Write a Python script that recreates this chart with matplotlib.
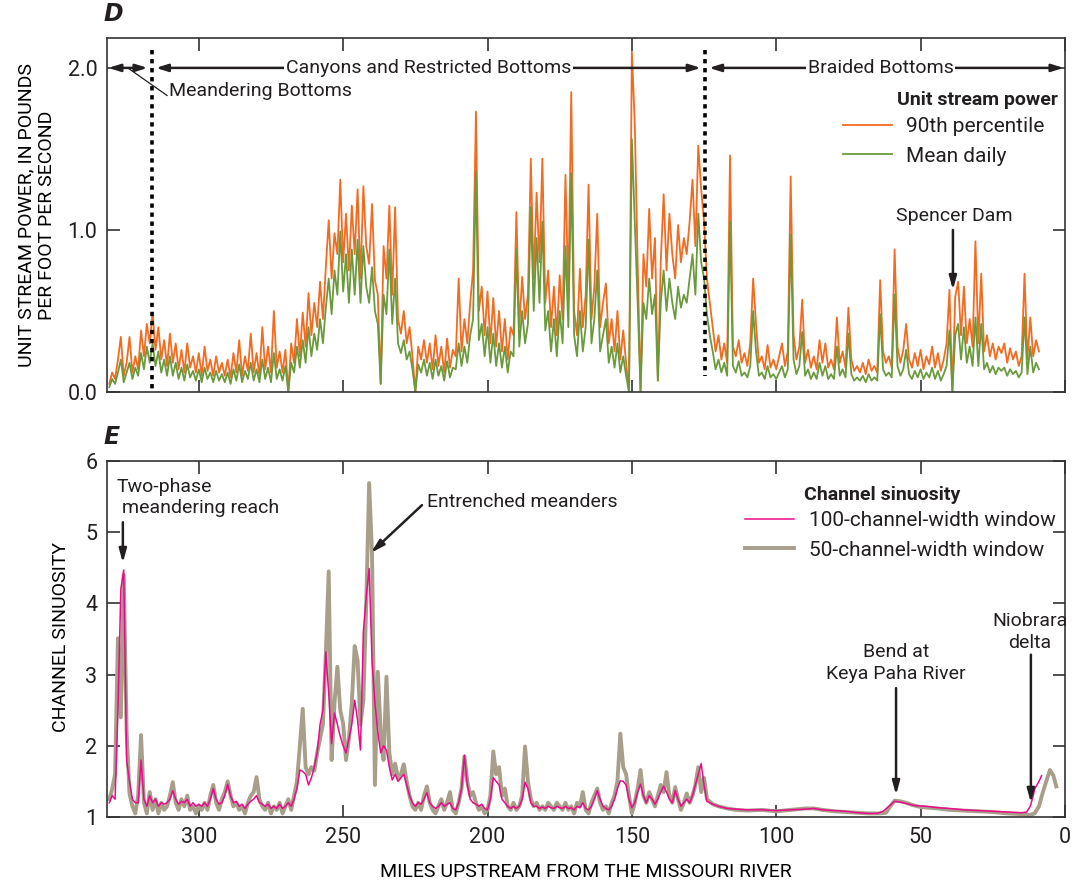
import numpy as np
import matplotlib
matplotlib.use('Agg')
import matplotlib.pyplot as plt

plt.rcParams['font.family'] = ['Liberation Sans Narrow', 'Roboto', 'DejaVu Sans']
plt.rcParams['text.color'] = '#231f20'

# unit stream power, one value per mile from mile 331 down to mile 9
power_miles = np.arange(331, 8, -1)
power_p90 = [
    0.05, 0.12, 0.08, 0.20, 0.34, 0.10, 0.18, 0.34, 0.12, 0.22,
    0.14, 0.38, 0.22, 0.42, 0.30, 0.49, 0.26, 0.40, 0.20, 0.32,
    0.16, 0.36, 0.18, 0.30, 0.14, 0.26, 0.12, 0.30, 0.15, 0.22,
    0.12, 0.24, 0.10, 0.28, 0.13, 0.20, 0.10, 0.22, 0.12, 0.18,
    0.10, 0.20, 0.09, 0.24, 0.12, 0.32, 0.10, 0.22, 0.13, 0.36,
    0.12, 0.24, 0.10, 0.40, 0.14, 0.28, 0.12, 0.50, 0.15, 0.25,
    0.12, 0.26, 0.00, 0.30, 0.18, 0.45, 0.22, 0.49, 0.28, 0.61,
    0.35, 0.55, 0.40, 0.68, 0.45, 0.77, 1.06, 0.70, 0.98, 0.85,
    1.31, 0.80, 1.10, 0.75, 1.15, 0.85, 1.25, 0.70, 1.27, 0.90,
    0.79, 1.16, 0.69, 0.60, 0.05, 0.90, 0.70, 1.15, 0.60, 1.14,
    0.45, 0.36, 0.50, 0.30, 0.40, 0.22, 0.00, 0.28, 0.20, 0.32,
    0.18, 0.30, 0.14, 0.35, 0.16, 0.28, 0.12, 0.33, 0.15, 0.26,
    0.22, 0.70, 0.25, 0.45, 0.30, 0.55, 0.75, 1.73, 0.50, 0.65,
    0.35, 0.62, 0.30, 0.58, 0.28, 0.50, 0.25, 0.45, 0.20, 0.40,
    0.35, 1.11, 0.40, 0.71, 0.45, 0.60, 1.44, 0.70, 1.23, 0.80,
    1.44, 0.55, 0.75, 0.40, 0.65, 0.35, 0.72, 0.45, 1.34, 0.60,
    1.85, 0.50, 0.35, 0.76, 0.40, 0.60, 1.28, 0.45, 0.65, 1.10,
    0.40, 0.55, 0.67, 0.30, 0.45, 0.25, 0.50, 0.20, 0.38, 0.18,
    0.00, 2.10, 1.66, 0.80, 0.00, 0.85, 0.65, 1.13, 0.70, 0.95,
    0.07, 0.80, 1.22, 0.75, 1.10, 0.85, 0.70, 1.03, 0.80, 0.95,
    0.85, 1.05, 1.31, 0.90, 1.52, 1.25, 1.05, 0.70, 0.55, 0.40,
    0.25, 0.35, 0.20, 0.30, 0.18, 1.46, 0.28, 0.22, 0.32, 0.18,
    0.24, 0.16, 0.30, 0.70, 0.42, 0.18, 0.22, 0.14, 0.29, 0.15,
    0.20, 0.14, 0.22, 0.30, 0.16, 0.25, 1.33, 0.35, 0.20, 0.28,
    0.57, 0.18, 0.26, 0.15, 0.22, 0.14, 0.32, 0.18, 0.30, 0.15,
    0.20, 0.14, 0.46, 0.18, 0.25, 0.15, 0.52, 0.20, 0.13, 0.16,
    0.12, 0.18, 0.11, 0.20, 0.13, 0.16, 0.12, 0.69, 0.25, 0.18,
    0.22, 0.15, 0.88, 0.28, 0.18, 0.26, 0.42, 0.20, 0.15, 0.24,
    0.16, 0.26, 0.14, 0.22, 0.17, 0.28, 0.15, 0.24, 0.13, 0.20,
    0.30, 0.63, 0.00, 0.59, 0.68, 0.35, 0.65, 0.30, 0.45, 0.28,
    0.93, 0.30, 0.73, 0.25, 0.35, 0.22, 0.30, 0.20, 0.28, 0.24,
    0.30, 0.18, 0.27, 0.20, 0.25, 0.16, 0.22, 0.73, 0.20, 0.46,
    0.22, 0.32, 0.25,
]
power_mean = [
    0.03, 0.08, 0.05, 0.12, 0.20, 0.06, 0.12, 0.18, 0.08, 0.15,
    0.10, 0.24, 0.14, 0.28, 0.18, 0.30, 0.16, 0.25, 0.12, 0.20,
    0.10, 0.22, 0.10, 0.18, 0.08, 0.15, 0.07, 0.17, 0.09, 0.13,
    0.07, 0.14, 0.06, 0.15, 0.08, 0.12, 0.06, 0.13, 0.07, 0.11,
    0.06, 0.12, 0.05, 0.14, 0.07, 0.17, 0.06, 0.13, 0.08, 0.18,
    0.07, 0.14, 0.06, 0.20, 0.08, 0.15, 0.06, 0.24, 0.08, 0.14,
    0.07, 0.16, 0.00, 0.18, 0.12, 0.28, 0.15, 0.32, 0.18, 0.40,
    0.22, 0.36, 0.26, 0.45, 0.30, 0.52, 0.70, 0.48, 0.75, 0.60,
    0.99, 0.62, 0.85, 0.55, 0.88, 0.60, 0.94, 0.55, 0.90, 0.65,
    0.55, 0.77, 0.50, 0.42, 0.05, 0.60, 0.48, 0.88, 0.42, 0.70,
    0.30, 0.24, 0.32, 0.20, 0.25, 0.14, 0.00, 0.17, 0.12, 0.20,
    0.10, 0.18, 0.08, 0.20, 0.10, 0.16, 0.07, 0.19, 0.09, 0.15,
    0.14, 0.30, 0.16, 0.28, 0.18, 0.35, 0.45, 1.36, 0.32, 0.42,
    0.22, 0.40, 0.18, 0.36, 0.16, 0.30, 0.15, 0.28, 0.12, 0.25,
    0.22, 0.88, 0.28, 0.50, 0.30, 0.42, 1.14, 0.50, 0.95, 0.55,
    1.05, 0.38, 0.50, 0.25, 0.45, 0.22, 0.50, 0.30, 0.90, 0.40,
    1.35, 0.35, 0.22, 0.50, 0.25, 0.40, 0.94, 0.30, 0.45, 0.75,
    0.25, 0.35, 0.45, 0.18, 0.28, 0.15, 0.30, 0.12, 0.22, 0.10,
    0.00, 1.56, 1.05, 0.55, 0.00, 0.55, 0.45, 0.70, 0.48, 0.60,
    0.07, 0.55, 0.75, 0.50, 0.70, 0.55, 0.45, 0.65, 0.52, 0.60,
    0.55, 0.70, 0.85, 0.60, 1.10, 0.80, 0.70, 0.48, 0.35, 0.25,
    0.14, 0.20, 0.12, 0.18, 0.10, 1.05, 0.16, 0.12, 0.19, 0.10,
    0.12, 0.09, 0.16, 0.50, 0.25, 0.10, 0.12, 0.08, 0.16, 0.09,
    0.11, 0.08, 0.12, 0.16, 0.09, 0.14, 0.97, 0.20, 0.11, 0.16,
    0.37, 0.10, 0.14, 0.08, 0.12, 0.08, 0.18, 0.10, 0.16, 0.08,
    0.11, 0.08, 0.28, 0.10, 0.14, 0.09, 0.36, 0.11, 0.07, 0.09,
    0.07, 0.10, 0.06, 0.11, 0.07, 0.09, 0.07, 0.48, 0.14, 0.10,
    0.12, 0.09, 0.60, 0.16, 0.10, 0.14, 0.26, 0.11, 0.08, 0.13,
    0.09, 0.14, 0.08, 0.12, 0.09, 0.15, 0.08, 0.13, 0.07, 0.11,
    0.16, 0.38, 0.00, 0.35, 0.42, 0.20, 0.40, 0.18, 0.28, 0.16,
    0.46, 0.16, 0.42, 0.14, 0.18, 0.12, 0.16, 0.11, 0.15, 0.13,
    0.15, 0.10, 0.14, 0.11, 0.13, 0.09, 0.12, 0.46, 0.11, 0.28,
    0.12, 0.18, 0.14,
]

# channel sinuosity: one value per mile from 331 to 125, then sparser points
sin_miles_fine = np.arange(331, 124, -1)
sin50_fine = [
    1.25, 1.39, 1.60, 3.51, 2.40, 4.40, 2.20, 1.33, 1.15, 1.05,
    1.30, 2.15, 1.20, 1.05, 1.35, 1.10, 1.25, 1.05, 1.20, 1.10,
    1.15, 1.30, 1.49, 1.20, 1.10, 1.25, 1.15, 1.30, 1.10, 1.15,
    1.05, 1.15, 1.10, 1.20, 1.10, 1.30, 1.45, 1.20, 1.10, 1.25,
    1.35, 1.50, 1.30, 1.15, 1.20, 1.10, 1.15, 1.05, 1.20, 1.30,
    1.35, 1.56, 1.25, 1.15, 1.10, 1.20, 1.05, 1.15, 1.10, 1.20,
    1.05, 1.15, 1.25, 1.10, 1.30, 1.50, 2.00, 2.52, 1.70, 1.60,
    1.70, 1.65, 1.90, 2.10, 2.30, 3.30, 4.45, 1.80, 2.60, 3.11,
    2.50, 2.31, 1.80, 2.10, 2.60, 3.40, 3.20, 2.30, 2.64, 4.00,
    5.69, 4.70, 1.45, 3.04, 2.20, 1.80, 2.97, 1.90, 1.60, 1.75,
    1.55, 1.60, 1.74, 1.50, 1.30, 1.15, 1.10, 1.20, 1.10, 1.30,
    1.43, 1.20, 1.10, 1.05, 1.15, 1.25, 1.10, 1.20, 1.35, 1.10,
    1.05, 1.20, 1.40, 1.85, 1.50, 1.30, 1.35, 1.20, 1.10, 1.15,
    1.05, 1.10, 1.30, 1.92, 1.60, 1.70, 1.30, 1.40, 1.15, 1.10,
    1.20, 1.10, 1.15, 1.30, 1.99, 1.50, 1.25, 1.15, 1.20, 1.10,
    1.15, 1.10, 1.20, 1.15, 1.10, 1.20, 1.15, 1.10, 1.20, 1.10,
    1.15, 1.05, 1.20, 1.15, 1.35, 1.10, 1.05, 1.20, 1.30, 1.40,
    1.20, 1.10, 1.15, 1.05, 1.20, 1.30, 1.50, 2.17, 1.70, 1.60,
    1.30, 1.05, 1.20, 1.40, 1.66, 1.30, 1.20, 1.35, 1.25, 1.15,
    1.30, 1.45, 1.35, 1.63, 1.30, 1.20, 1.42, 1.25, 1.10, 1.20,
    1.33, 1.20, 1.30, 1.45, 1.70, 1.35, 1.55,
]
sin100_fine = [
    1.20, 1.30, 1.25, 2.50, 4.20, 4.47, 1.80, 1.50, 1.25, 1.20,
    1.20, 1.80, 1.25, 1.15, 1.30, 1.20, 1.25, 1.15, 1.20, 1.18,
    1.20, 1.25, 1.37, 1.25, 1.18, 1.22, 1.20, 1.25, 1.15, 1.20,
    1.15, 1.18, 1.15, 1.20, 1.15, 1.25, 1.40, 1.25, 1.18, 1.20,
    1.30, 1.46, 1.30, 1.20, 1.22, 1.15, 1.18, 1.12, 1.18, 1.22,
    1.25, 1.30, 1.20, 1.18, 1.15, 1.18, 1.12, 1.15, 1.12, 1.18,
    1.12, 1.15, 1.20, 1.15, 1.25, 1.40, 1.66, 1.64, 1.60, 1.45,
    1.55, 1.70, 1.90, 2.30, 2.50, 3.32, 2.74, 2.03, 2.46, 2.30,
    2.13, 2.00, 1.90, 2.10, 2.30, 2.64, 2.36, 1.94, 3.60, 4.10,
    4.49, 3.20, 2.60, 2.20, 1.90, 2.00, 1.94, 1.70, 1.52, 1.60,
    1.50, 1.55, 1.60, 1.45, 1.30, 1.20, 1.15, 1.20, 1.18, 1.25,
    1.34, 1.20, 1.15, 1.12, 1.15, 1.20, 1.15, 1.18, 1.20, 1.12,
    1.10, 1.20, 1.40, 1.87, 1.45, 1.25, 1.20, 1.18, 1.15, 1.18,
    1.12, 1.10, 1.25, 1.55, 1.50, 1.45, 1.25, 1.20, 1.15, 1.12,
    1.15, 1.12, 1.15, 1.25, 1.49, 1.40, 1.20, 1.15, 1.15, 1.12,
    1.14, 1.12, 1.15, 1.13, 1.12, 1.15, 1.13, 1.12, 1.15, 1.12,
    1.13, 1.10, 1.15, 1.13, 1.20, 1.12, 1.10, 1.15, 1.25, 1.37,
    1.25, 1.15, 1.12, 1.10, 1.15, 1.25, 1.40, 1.51, 1.50, 1.45,
    1.25, 1.13, 1.20, 1.35, 1.46, 1.30, 1.20, 1.30, 1.25, 1.18,
    1.25, 1.35, 1.43, 1.35, 1.25, 1.20, 1.37, 1.25, 1.15, 1.20,
    1.25, 1.20, 1.30, 1.45, 1.60, 1.75, 1.45,
]
sin50_miles_coarse = [124, 122, 120, 117, 114, 110, 105, 100, 95, 90, 87, 84, 80, 76, 72, 68,
                      64, 62, 60.5, 59, 57, 55, 53, 50, 47, 44, 40, 35, 30, 25, 20, 15, 12,
                      10.5, 9, 8, 6.5, 5.2, 4, 3]
sin50_coarse = [1.25, 1.18, 1.15, 1.12, 1.10, 1.09, 1.10, 1.08, 1.10, 1.12, 1.12, 1.10, 1.08,
                1.07, 1.06, 1.05, 1.05, 1.06, 1.15, 1.23, 1.22, 1.20, 1.17, 1.14, 1.13, 1.12,
                1.10, 1.09, 1.08, 1.07, 1.05, 1.04, 1.03, 1.05, 1.15, 1.30, 1.50, 1.66, 1.58,
                1.43]
sin100_miles_coarse = [124, 122, 120, 117, 114, 110, 105, 100, 95, 90, 87, 84, 80, 76, 72, 68,
                       65, 63, 61, 59, 57, 55, 52, 48, 44, 40, 35, 30, 25, 20, 15, 13.3, 12,
                       11, 10.4, 9, 8.1]
sin100_coarse = [1.22, 1.18, 1.15, 1.12, 1.11, 1.10, 1.10, 1.09, 1.10, 1.11, 1.12, 1.10, 1.09,
                 1.08, 1.06, 1.05, 1.05, 1.08, 1.15, 1.22, 1.21, 1.19, 1.16, 1.15, 1.13, 1.12,
                 1.10, 1.09, 1.08, 1.07, 1.06, 1.07, 1.15, 1.30, 1.40, 1.50, 1.58]

sin50_miles = np.concatenate([sin_miles_fine, sin50_miles_coarse])
sin50 = np.concatenate([sin50_fine, sin50_coarse])
sin100_miles = np.concatenate([sin_miles_fine, sin100_miles_coarse])
sin100 = np.concatenate([sin100_fine, sin100_coarse])

# reach boundaries (miles)
meander_start, canyon_start, braided_start, river_mouth = 331.8, 316.3, 124.7, 0

orange = '#f26b21'
green = '#6a9a3c'
pink = '#ec0a8c'
tan = '#a79f89'
ink = '#231f20'
fs = 14  # annotation / axis label size

fig = plt.figure(figsize=(10.73, 8.84), dpi=100)
ax1 = fig.add_axes([0.0997, 0.5566, 0.8928, 0.4005])
ax2 = fig.add_axes([0.0997, 0.0758, 0.8928, 0.4027])

for ax in (ax1, ax2):
    ax.set_xlim(331.8, 0)
    ax.set_xticks([300, 250, 200, 150, 100, 50, 0])
    ax.tick_params(direction='in', length=9, width=1.1, top=True, right=True,
                   labelsize=15.5, colors=ink, pad=7)
    for s in ax.spines.values():
        s.set_linewidth(1.2)
        s.set_color('#333333')
ax1.tick_params(axis='x', labelbottom=False)

# panel D
ax1.plot(power_miles, power_p90, color=orange, lw=1.3, label='90th percentile')
ax1.plot(power_miles, power_mean, color=green, lw=1.3, label='Mean daily')
ax1.set_ylim(0, 2.185)
ax1.set_yticks([0, 1, 2])
ax1.set_yticklabels(['0.0', '1.0', '2.0'])
ax1.set_ylabel('UNIT STREAM POWER, IN POUNDS\nPER FOOT PER SECOND', fontsize=fs, linespacing=1.2)
ax1.yaxis.set_label_coords(-0.053, 0.5)
ax1.text(-0.004, 1.035, 'D', transform=ax1.transAxes, fontsize=17, fontweight='bold',
         fontstyle='italic', family=['DejaVu Sans'], va='bottom')

for m in (canyon_start, braided_start):
    ax1.plot([m, m], [2.11, 0.1 if m == braided_start else 0.0], color='black', lw=2.6,
             ls=(0, (1.2, 1.3)))

arrow_kw = dict(arrowstyle='<|-|>,head_length=0.7,head_width=0.22', color=ink, lw=1.8,
                shrinkA=1, shrinkB=3)
ax1.annotate('', xy=(meander_start, 2.0), xytext=(canyon_start, 2.0),
             arrowprops=dict(arrow_kw, shrinkA=3, shrinkB=1))
ax1.annotate('', xy=(canyon_start, 2.0), xytext=(braided_start, 2.0),
             arrowprops=dict(arrow_kw, shrinkA=3, shrinkB=3))
ax1.annotate('', xy=(braided_start, 2.0), xytext=(river_mouth, 2.0),
             arrowprops=dict(arrow_kw, shrinkA=1, shrinkB=3))
box = dict(boxstyle='square,pad=0.1', fc='white', ec='none')
ax1.text((canyon_start + braided_start) / 2, 2.0, 'Canyons and Restricted Bottoms',
         ha='center', va='center', fontsize=fs, bbox=box)
ax1.text((braided_start + river_mouth) / 2 + 1.5, 2.0, 'Braided Bottoms',
         ha='center', va='center', fontsize=fs, bbox=box)
ax1.plot([324.6, 311.0], [2.0, 1.83], color=ink, lw=0.9)
ax1.text(310.2, 1.855, 'Meandering Bottoms', ha='left', va='center', fontsize=fs)

ax1.legend(loc='upper left', bbox_to_anchor=(0.768, 0.776), frameon=False,
           fontsize=15, handlelength=2.35, handletextpad=0.7, labelspacing=0.5,
           borderpad=0, borderaxespad=0)
ax1.text(0.8246, 0.825, 'Unit stream power', transform=ax1.transAxes, fontsize=14,
         fontweight='bold', va='center', ha='left')

ax1.annotate('', xy=(38.8, 0.63), xytext=(38.8, 1.0),
             arrowprops=dict(arrowstyle='-|>,head_length=0.8,head_width=0.22', color=ink,
                             lw=1.8, shrinkA=0, shrinkB=0))
ax1.text(38.3, 1.087, 'Spencer Dam', ha='center', va='center', fontsize=fs)

# panel E
ax2.plot(sin50_miles, sin50, color=tan, lw=2.8, label='50-channel-width window')
ax2.plot(sin100_miles, sin100, color=pink, lw=1.1, label='100-channel-width window')
ax2.set_ylim(1, 6)
ax2.set_yticks([1, 2, 3, 4, 5, 6])
ax2.set_ylabel('CHANNEL SINUOSITY', fontsize=fs)
ax2.yaxis.set_label_coords(-0.039, 0.506)
ax2.set_xlabel('MILES UPSTREAM FROM THE MISSOURI RIVER', fontsize=fs, labelpad=11)
ax2.text(-0.004, 1.035, 'E', transform=ax2.transAxes, fontsize=17, fontweight='bold',
         fontstyle='italic', family=['DejaVu Sans'], va='bottom')

h, l = ax2.get_legend_handles_labels()
ax2.legend(h[::-1], l[::-1], loc='upper left', bbox_to_anchor=(0.666, 0.859), frameon=False,
           fontsize=15, handlelength=2.35, handletextpad=0.7, labelspacing=0.5,
           borderpad=0, borderaxespad=0)
ax2.text(0.7275, 0.9045, 'Channel sinuosity', transform=ax2.transAxes, fontsize=14,
         fontweight='bold', va='center', ha='left')

down_kw = dict(arrowstyle='-|>,head_length=0.8,head_width=0.22', color=ink, lw=1.8,
               shrinkA=0, shrinkB=0)
ax2.annotate('', xy=(326.3, 4.57), xytext=(326.3, 5.14), arrowprops=down_kw)
ax2.text(328.4, 5.49, 'Two-phase\n meandering reach', ha='left', va='center', fontsize=fs,
         linespacing=1.25)
ax2.annotate('', xy=(240.4, 4.71), xytext=(222.7, 5.38), arrowprops=down_kw)
ax2.text(221.0, 5.42, 'Entrenched meanders', ha='left', va='center', fontsize=fs)
ax2.annotate('', xy=(58.5, 1.31), xytext=(58.5, 2.81), arrowprops=down_kw)
ax2.text(58.5, 3.16, 'Bend at\nKeya Paha River', ha='center', va='center', fontsize=fs,
         linespacing=1.25)
ax2.annotate('', xy=(11.8, 1.2), xytext=(11.8, 3.28), arrowprops=down_kw)
ax2.text(12.1, 3.6, 'Niobrara\ndelta', ha='center', va='center', fontsize=fs,
         linespacing=1.25)

fig.savefig('out.png', dpi=100)
